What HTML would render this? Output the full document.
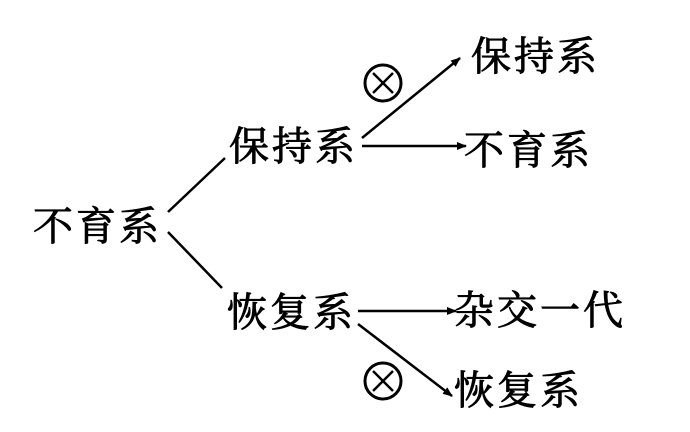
<!DOCTYPE html>
<html><head><meta charset="utf-8"><style>
html,body{margin:0;padding:0;background:#fff;width:690px;height:432px;overflow:hidden}
text{font-family:"Liberation Serif","Noto Serif CJK SC","Noto Sans CJK SC",serif;font-size:40px;fill:#000;stroke:#000;stroke-width:0.9px;letter-spacing:3px}
</style></head><body>
<svg width="690" height="432" viewBox="0 0 690 432" xmlns="http://www.w3.org/2000/svg">
<defs><marker id="a" markerWidth="10" markerHeight="8" refX="9" refY="4" orient="auto" markerUnits="userSpaceOnUse"><path d="M0,0 L10,4 L0,8 Z" fill="#000"/></marker></defs>
<g stroke="#000" stroke-width="2.5" fill="none">
<line x1="168" y1="212" x2="225" y2="158"/>
<line x1="168" y1="232" x2="222" y2="288"/>
<line x1="362" y1="138" x2="460" y2="58" marker-end="url(#a)"/>
<line x1="362" y1="146" x2="466" y2="146" marker-end="url(#a)"/>
<line x1="358" y1="311" x2="456" y2="311" marker-end="url(#a)"/>
<line x1="358" y1="324" x2="452" y2="396" marker-end="url(#a)"/>
<circle cx="383" cy="83" r="18" stroke-width="3"/>
<line x1="373" y1="73" x2="393" y2="93"/><line x1="393" y1="73" x2="373" y2="93"/>
<circle cx="383" cy="381" r="18" stroke-width="3"/>
<line x1="373" y1="371" x2="393" y2="391"/><line x1="393" y1="371" x2="373" y2="391"/>
</g>
<text x="33" y="240">不育系</text>
<text x="229" y="160">保持系</text>
<text x="227" y="326">恢复系</text>
<text x="471" y="70">保持系</text>
<text x="464" y="164">不育系</text>
<text x="454" y="324">杂交一代</text>
<text x="454" y="404">恢复系</text>
</svg>
</body></html>
